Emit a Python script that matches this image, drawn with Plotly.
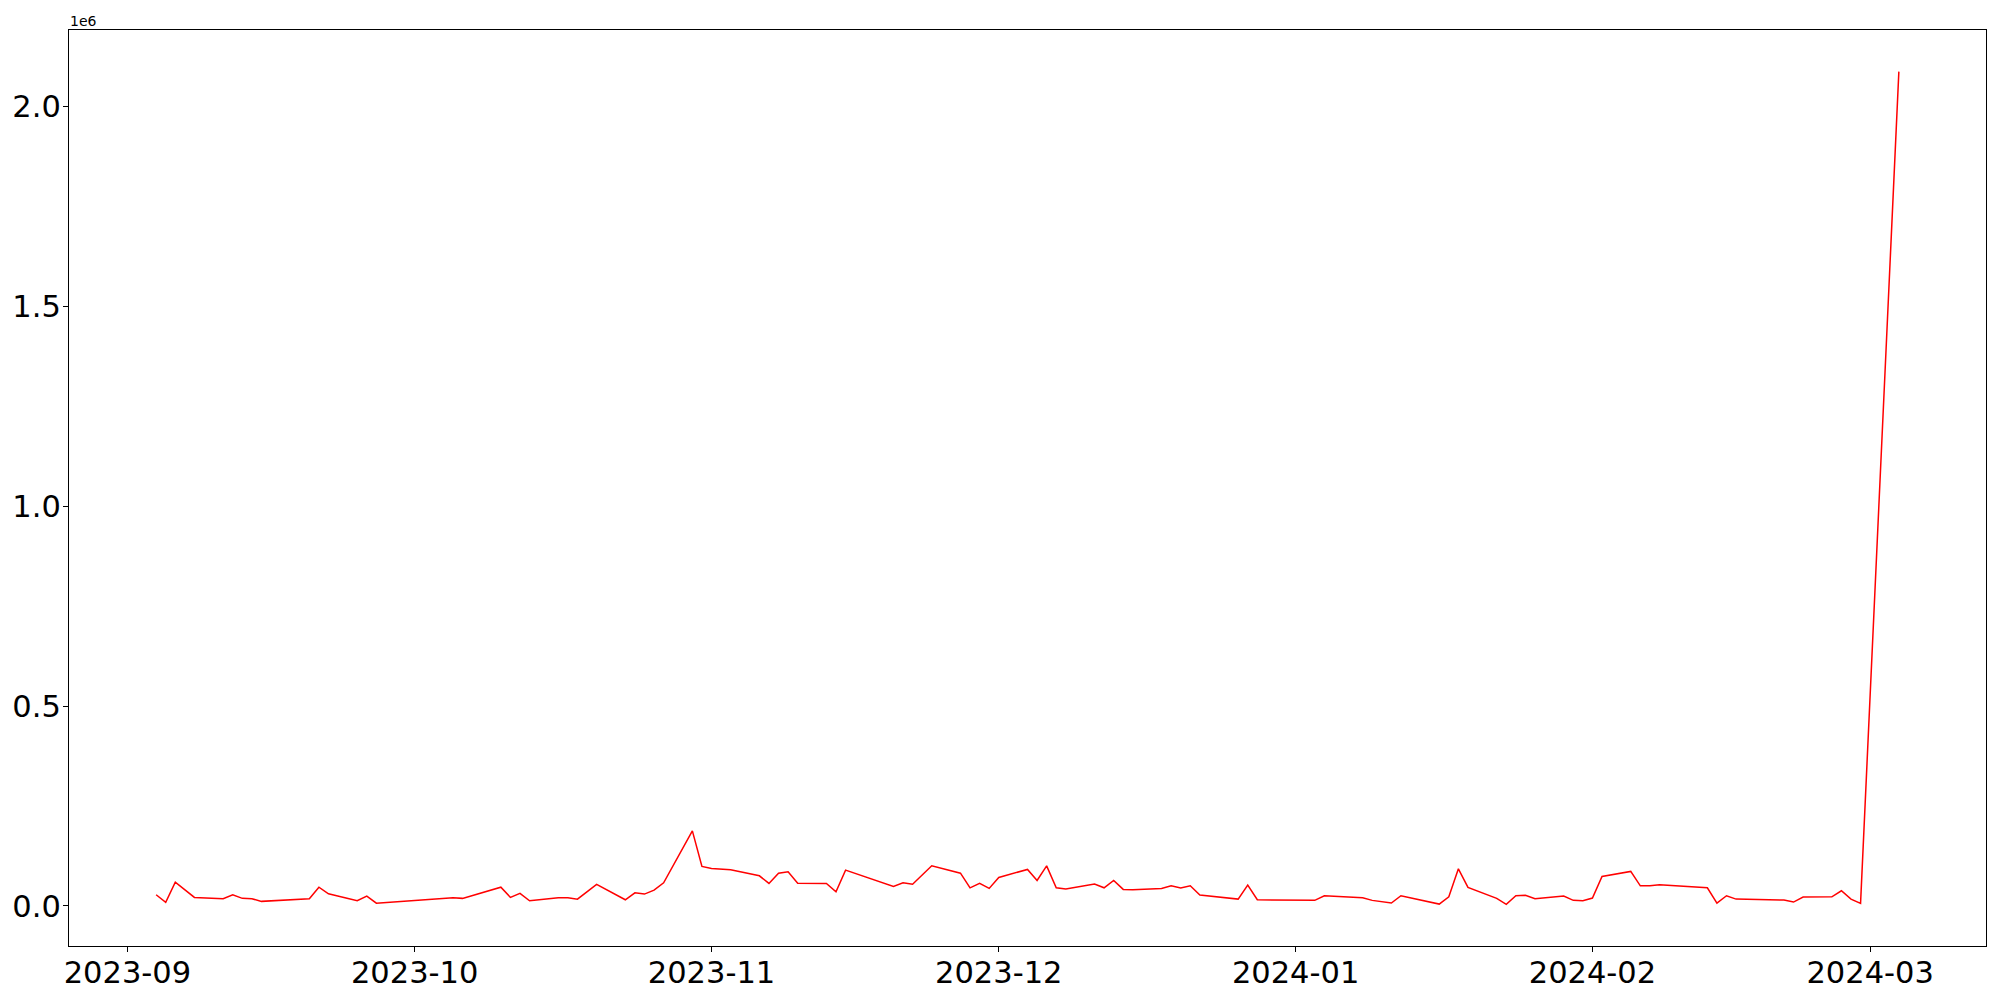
import plotly.graph_objects as go
import pandas as pd

dates = [
    "2023-09-04", "2023-09-05", "2023-09-06", "2023-09-08", "2023-09-11", "2023-09-12",
    "2023-09-13", "2023-09-14", "2023-09-15", "2023-09-20", "2023-09-21", "2023-09-22",
    "2023-09-25", "2023-09-26", "2023-09-27", "2023-10-05", "2023-10-06", "2023-10-10",
    "2023-10-11", "2023-10-12", "2023-10-13", "2023-10-16", "2023-10-17", "2023-10-18",
    "2023-10-20", "2023-10-23", "2023-10-24", "2023-10-25", "2023-10-26", "2023-10-27",
    "2023-10-30", "2023-10-31", "2023-11-01", "2023-11-02", "2023-11-03", "2023-11-06",
    "2023-11-07", "2023-11-08", "2023-11-09", "2023-11-10", "2023-11-13", "2023-11-14",
    "2023-11-15", "2023-11-20", "2023-11-21", "2023-11-22", "2023-11-24", "2023-11-27",
    "2023-11-28", "2023-11-29", "2023-11-30", "2023-12-01", "2023-12-04", "2023-12-05",
    "2023-12-06", "2023-12-07", "2023-12-08", "2023-12-11", "2023-12-12", "2023-12-13",
    "2023-12-14", "2023-12-15", "2023-12-18", "2023-12-19", "2023-12-20", "2023-12-21",
    "2023-12-22", "2023-12-26", "2023-12-27", "2023-12-28", "2024-01-02", "2024-01-03",
    "2024-01-04", "2024-01-08", "2024-01-09", "2024-01-11", "2024-01-12", "2024-01-16",
    "2024-01-17", "2024-01-18", "2024-01-19", "2024-01-22", "2024-01-23", "2024-01-24",
    "2024-01-25", "2024-01-26", "2024-01-29", "2024-01-30", "2024-01-31", "2024-02-01",
    "2024-02-02", "2024-02-05", "2024-02-06", "2024-02-07", "2024-02-08", "2024-02-13",
    "2024-02-14", "2024-02-15", "2024-02-16", "2024-02-21", "2024-02-22", "2024-02-23",
    "2024-02-26", "2024-02-27", "2024-02-28", "2024-02-29", "2024-03-04",
]

values = [
    28000, 9000, 59700, 21400, 18000, 28000,
    19000, 18000, 11500, 18000, 47000, 30500,
    13000, 24700, 7000, 20500, 19000, 47000,
    21400, 31400, 13000, 20500, 20500, 17000,
    54000, 15500, 33000, 29700, 39700, 58000,
    187800, 98900, 93900, 92900, 90400, 75400,
    56400, 82000, 85400, 57000, 56400, 35500,
    89600, 48900, 58000, 54200, 100400, 82000,
    45400, 56400, 43900, 71400, 91400, 63900,
    100400, 45400, 42200, 54700, 45400, 63900,
    41400, 40400, 43900, 50400, 44700, 50400,
    27200, 17200, 52200, 15500, 15000, 14000,
    25500, 20500, 14000, 7200, 25500, 4700,
    23000, 92900, 46400, 19000, 4000, 25500,
    26500, 18000, 24700, 14000, 13000, 19700,
    73900, 86400, 50400, 50400, 52900, 45400,
    7000, 25500, 17200, 14700, 9700, 22200,
    23000, 38000, 17200, 6500, 2087000,
]

y_tick_vals = [0, 500000, 1000000, 1500000, 2000000]
y_tick_text = ["0.0", "0.5", "1.0", "1.5", "2.0"]
x_tick_vals = ["2023-09-01", "2023-10-01", "2023-11-01", "2023-12-01",
               "2024-01-01", "2024-02-01", "2024-03-01"]
x_tick_text = ["2023-09", "2023-10", "2023-11", "2023-12", "2024-01", "2024-02", "2024-03"]

# matplotlib-like 5% margins
dt = pd.to_datetime(dates)
span = dt.max() - dt.min()
x_range = [dt.min() - span * 0.05, dt.max() + span * 0.05]
ymin, ymax = min(values), max(values)
yr = ymax - ymin
y_range = [ymin - 0.05 * yr, ymax + 0.05 * yr]

fig = go.Figure()
fig.add_trace(go.Scatter(x=dates, y=values, mode="lines",
                         line=dict(color="red", width=1.5), showlegend=False))

axis_common = dict(showline=True, linecolor="black", linewidth=1.2, mirror=True,
                   showgrid=False, zeroline=False, ticks="outside", ticklen=5,
                   tickwidth=1.1, tickcolor="black", automargin=False,
                   tickfont=dict(family="DejaVu Sans", size=30.5, color="black"))

# page body keeps its default 8px margin; offsets below compensate for it
fig.update_layout(
    width=2000, height=1000,
    paper_bgcolor="white", plot_bgcolor="white",
    margin=dict(l=61, r=22, t=22, b=62),
    xaxis=dict(range=x_range, tickvals=x_tick_vals, ticktext=x_tick_text,
               ticklabelstandoff=-6, **axis_common),
    yaxis=dict(range=y_range, tickvals=y_tick_vals, ticktext=y_tick_text,
               ticklabelstandoff=-4, **axis_common),
    annotations=[dict(text="1e6", xref="paper", yref="paper", x=0, y=1,
                      xanchor="left", yanchor="bottom", showarrow=False, yshift=-1,
                      xshift=-1, font=dict(family="DejaVu Sans", size=14, color="black"))],
)

fig.write_html("out.html", config={"displayModeBar": False})
